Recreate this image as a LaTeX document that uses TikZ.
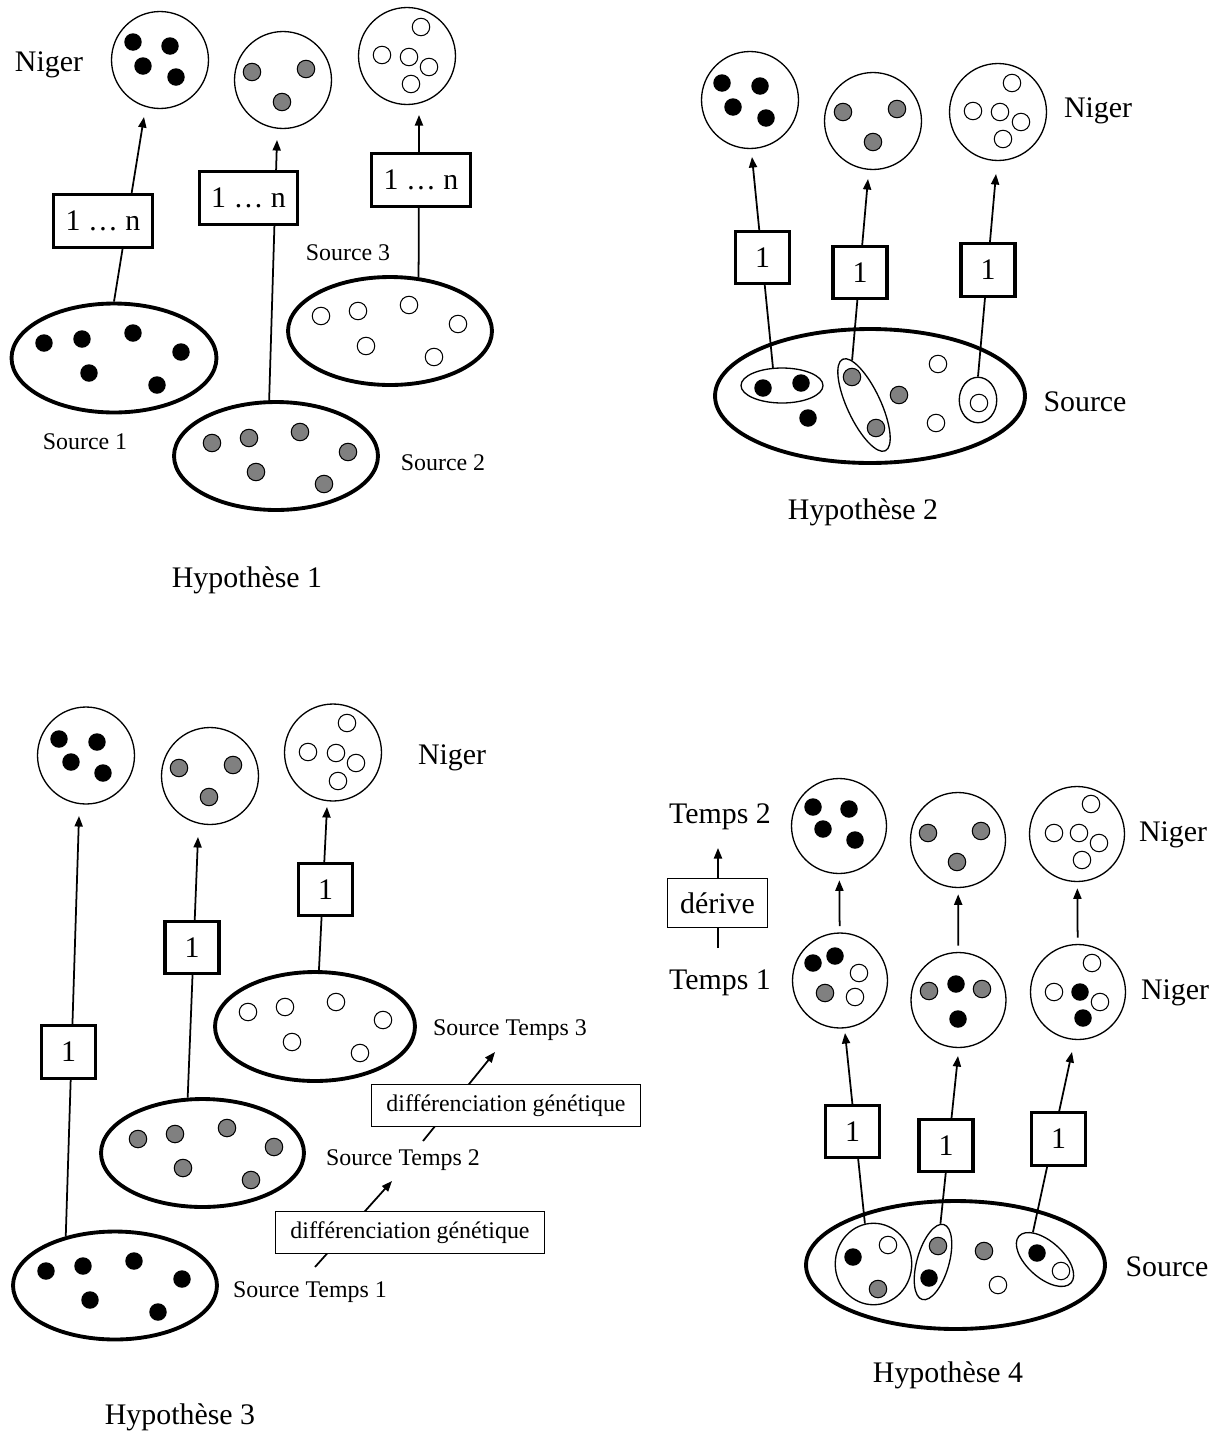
\documentclass[tikz,border=0pt]{standalone}
\usepackage{fontspec}
\setmainfont{Liberation Serif}
\usetikzlibrary{arrows.meta, shapes.geometric, calc}

\newcommand{\grand}{\fontsize{17}{20}\selectfont}
\newcommand{\petit}{\fontsize{13.6}{16}\selectfont}
\newcommand{\dotr}{0.175cm}

\tikzset{
  pop/.style={draw, circle, line width=0.75pt, minimum size=1.94cm, inner sep=0pt},
  src/.style={draw, ellipse, line width=2.2pt, minimum width=4.1cm, minimum height=2.18cm, inner sep=0pt},
  grp/.style={draw, ellipse, line width=0.75pt, inner sep=0pt},
  numbox/.style={draw, line width=1.9pt, fill=white, minimum width=1.08cm, minimum height=1.05cm, inner sep=0pt, font=\grand},
  dbox/.style={draw, line width=0.7pt, fill=white, minimum width=5.38cm, minimum height=0.84cm, inner sep=0pt, font=\petit},
  lab/.style={font=\grand, inner sep=0pt},
  slab/.style={font=\petit, inner sep=0pt},
  link/.style={line width=1pt},
  blk/.style={fill=black},
  gry/.style={draw, line width=0.6pt, fill=gray},
  wht/.style={draw, line width=0.6pt, fill=white},
}

\begin{document}
\begin{tikzpicture}[x=0.02cm, y=-0.02cm, >={Triangle[length=6pt,width=4.6pt]}]
  \useasboundingbox (0,0) rectangle (1229,1434);

  % ---------------- Hypothese 1
  \node[pop] (n1a) at (160,60) {};
  \node[pop] (n1b) at (283,80) {};
  \node[pop] (n1c) at (407,56) {};
  \node[lab] (ng1) at (49,65) {Niger};
  \node[src] (s1a) at (114,358) {};
  \node[src, minimum width=4.08cm, minimum height=2.16cm] (s1b) at (276,456) {};
  \node[src, minimum width=4.08cm, minimum height=2.16cm] (s1c) at (390,331) {};
  \node[slab] (ls1a) at (85,442) {Source 1};
  \node[slab] (ls1b) at (443,463) {Source 2};
  \node[slab] (ls1c) at (348,253) {Source 3};
  \foreach \x/\y in {133/42, 170/46, 143/66, 176/77, 44/343, 82/339, 133/333, 181/352, 89/373, 157/385}
    \fill[blk] (\x,\y) circle[radius=\dotr];
  \foreach \x/\y in {252/72, 306/69, 282/102, 212/443, 249/438, 300/432, 348/452, 256/472, 324/484}
    \draw[gry] (\x,\y) circle[radius=\dotr];
  \foreach \x/\y in {421/27, 382/55, 409/57, 429/67, 411/84, 321/316, 358/311, 409/305, 458/324, 366/346, 434/357}
    \draw[wht] (\x,\y) circle[radius=\dotr];
  \coordinate (t1a) at (144,117);
  \coordinate (t1b) at (277,140);
  \coordinate (t1c) at (419,115);
  \draw[link, ->] (s1a.north) -- (t1a);
  \draw[link, ->] (s1b.97) -- (t1b);
  \draw[link, ->] (s1c.62) -- (t1c);
  \node[numbox, minimum width=1.97cm] (b1a) at (103,221) {1 … n};
  \node[numbox, minimum width=1.97cm] (b1b) at (248.5,198) {1 … n};
  \node[numbox, minimum width=1.97cm] (b1c) at (421,180) {1 … n};
  \node[lab] (h1) at (247,580) {Hypothèse 1};

  % ---------------- Hypothese 2
  \node[pop] (n2a) at (750,100) {};
  \node[pop] (n2b) at (873,121) {};
  \node[pop] (n2c) at (998,112) {};
  \node[lab] (ng2) at (1098,111) {Niger};
  \node[src, minimum width=6.2cm, minimum height=2.68cm] (s2) at (870,396) {};
  \node[lab] (ls2) at (1085,402) {Source};
  \node[grp, minimum width=1.64cm, minimum height=0.7cm] (g2a) at (782,385.5) {};
  \node[grp, minimum width=0.67cm, minimum height=2.02cm, rotate=25] (g2b) at (864,405) {};
  \node[grp, minimum width=0.75cm, minimum height=0.91cm] (g2c) at (978,400) {};
  \foreach \x/\y in {722/83, 760/86, 733/107, 766/118, 763/388, 801/383, 808/418}
    \fill[blk] (\x,\y) circle[radius=\dotr];
  \foreach \x/\y in {843/112, 897/109, 873/142, 852/377, 876/428, 899/395}
    \draw[gry] (\x,\y) circle[radius=\dotr];
  \foreach \x/\y in {1012/83, 973/111, 1000/112, 1021/122, 1003/139, 938/364, 936/423, 979/403}
    \draw[wht] (\x,\y) circle[radius=\dotr];
  \coordinate (t2a) at (752,157);
  \coordinate (t2b) at (868,179);
  \coordinate (t2c) at (996,174);
  \draw[link, ->] (g2a.117) -- (t2a);
  \draw[link, ->] (g2b.80) -- (t2b);
  \draw[link, ->] (g2c.north) -- (t2c);
  \node[numbox] (b2a) at (762.5,257.5) {1};
  \node[numbox] (b2b) at (860,272.5) {1};
  \node[numbox] (b2c) at (988,270) {1};
  \node[lab] (h2) at (863,512) {Hypothèse 2};

  % ---------------- Hypothese 3
  \node[pop] (n3a) at (86,755.5) {};
  \node[pop] (n3b) at (210,776) {};
  \node[pop] (n3c) at (333,752.5) {};
  \node[lab] (ng3) at (452,758) {Niger};
  \node[src, minimum width=4.08cm, minimum height=2.16cm] (s3a) at (115,1285.5) {};
  \node[src, minimum width=4.06cm, minimum height=2.16cm] (s3b) at (202.5,1153) {};
  \node[src, minimum width=4.0cm, minimum height=2.18cm] (s3c) at (315,1026.5) {};
  \node[slab] (ls3a) at (310,1292) {Source Temps 1};
  \node[slab] (ls3b) at (403,1160) {Source Temps 2};
  \node[slab] (ls3c) at (510,1030) {Source Temps 3};
  \foreach \x/\y in {59/739, 97/742, 71/762, 103/773, 46/1271, 83/1266, 134/1261, 182/1279, 90/1300, 158/1312}
    \fill[blk] (\x,\y) circle[radius=\dotr];
  \foreach \x/\y in {179/768, 233/765, 209/797, 138/1139, 175/1134, 227/1128, 274/1147, 183/1168, 251/1180}
    \draw[gry] (\x,\y) circle[radius=\dotr];
  \foreach \x/\y in {347/723, 308/752, 336/753, 356/763, 338/781, 248/1012, 285/1007, 336/1002, 383/1020, 292/1042, 360/1053}
    \draw[wht] (\x,\y) circle[radius=\dotr];
  \coordinate (t3a) at (79,816);
  \coordinate (t3b) at (198,837);
  \coordinate (t3c) at (327,807);
  \draw[link, ->] (s3a.135) -- (t3a);
  \draw[link, ->] (s3b.105) -- (t3b);
  \draw[link, ->] (s3c.86) -- (t3c);
  \node[numbox] (b3a) at (68.5,1052) {1};
  \node[numbox] (b3b) at (192,947.5) {1};
  \node[numbox] (b3c) at (325.5,889.5) {1};
  % differenciation
  \coordinate (df1) at (315,1267);
  \coordinate (df2) at (392,1181);
  \coordinate (df3) at (423,1141);
  \coordinate (df4) at (495,1052);
  \draw[link, ->] (df1) -- (df2);
  \draw[link, ->] (df3) -- (df4);
  \node[dbox] (d3a) at (410,1232.5) {différenciation génétique};
  \node[dbox] (d3b) at (506,1105.5) {différenciation génétique};
  \node[lab] (h3) at (180,1417) {Hypothèse 3};

  % ---------------- Hypothese 4
  \node[pop, minimum size=1.9cm] (n4a) at (839,826) {};
  \node[pop, minimum size=1.9cm] (n4b) at (958,840) {};
  \node[pop, minimum size=1.9cm] (n4c) at (1077,834) {};
  \node[pop, minimum size=1.9cm] (m4a) at (840,980.5) {};
  \node[pop, minimum size=1.9cm] (m4b) at (958.5,1000) {};
  \node[pop, minimum size=1.9cm] (m4c) at (1078,992) {};
  \node[lab] (ng4a) at (1173,835) {Niger};
  \node[lab] (ng4b) at (1175,993) {Niger};
  \node[lab] (tp2) at (720,817) {Temps 2};
  \node[lab] (tp1) at (720,983) {Temps 1};
  \node[src, minimum width=5.98cm, minimum height=2.56cm] (s4) at (955.5,1265) {};
  \node[lab] (ls4) at (1167,1267) {Source};
  \node[grp, minimum width=1.53cm, minimum height=1.63cm] (g4a) at (873.5,1264) {};
  \node[grp, minimum width=0.64cm, minimum height=1.56cm, rotate=-16] (g4b) at (933,1262) {};
  \node[grp, minimum width=1.4cm, minimum height=0.72cm, rotate=-42] (g4c) at (1045,1259.5) {};
  \foreach \x/\y in {813/807, 849/809, 823/829, 855/840, 813/963, 835/956, 956/984, 958/1019, 1080/992, 1083/1018, 853/1257, 929/1278, 1037/1253}
    \fill[blk] (\x,\y) circle[radius=\dotr];
  \foreach \x/\y in {928/833, 981/831, 957/862, 825/993, 929/991, 982/989, 878/1289, 938/1246, 984/1251}
    \draw[gry] (\x,\y) circle[radius=\dotr];
  \foreach \x/\y in {1091/804, 1054/833, 1079/833, 1099/843, 1082/860, 859/973, 855/997, 1092/963, 1054/992, 1100/1002, 888/1245, 998/1285, 1061/1271}
    \draw[wht] (\x,\y) circle[radius=\dotr];
  \draw[link, ->, shorten <=3.5pt, shorten >=3.5pt] (m4a) -- (n4a);
  \draw[link, ->, shorten <=3.5pt, shorten >=3.5pt] (m4b) -- (n4b);
  \draw[link, ->, shorten <=3.5pt, shorten >=3.5pt] (m4c) -- (n4c);
  \coordinate (t4a) at (845,1033);
  \coordinate (t4b) at (958,1056);
  \coordinate (t4c) at (1072,1052);
  \draw[link, ->] (g4a.102) -- (t4a);
  \draw[link, ->] (g4b.95) -- (t4b);
  \draw[link, ->] (g4c.156) -- (t4c);
  \node[numbox] (b4a) at (852.5,1131.5) {1};
  \node[numbox] (b4b) at (946,1145.5) {1};
  \node[numbox] (b4c) at (1058.5,1139) {1};
  % derive
  \coordinate (dv1) at (718,948);
  \coordinate (dv2) at (718,848);
  \draw[link, ->] (dv1) -- (dv2);
  \node[dbox, minimum width=2cm, minimum height=0.98cm, font=\grand] (dv) at (717.5,903) {dérive};
  \node[lab] (h4) at (948,1375) {Hypothèse 4};
\end{tikzpicture}
\end{document}
